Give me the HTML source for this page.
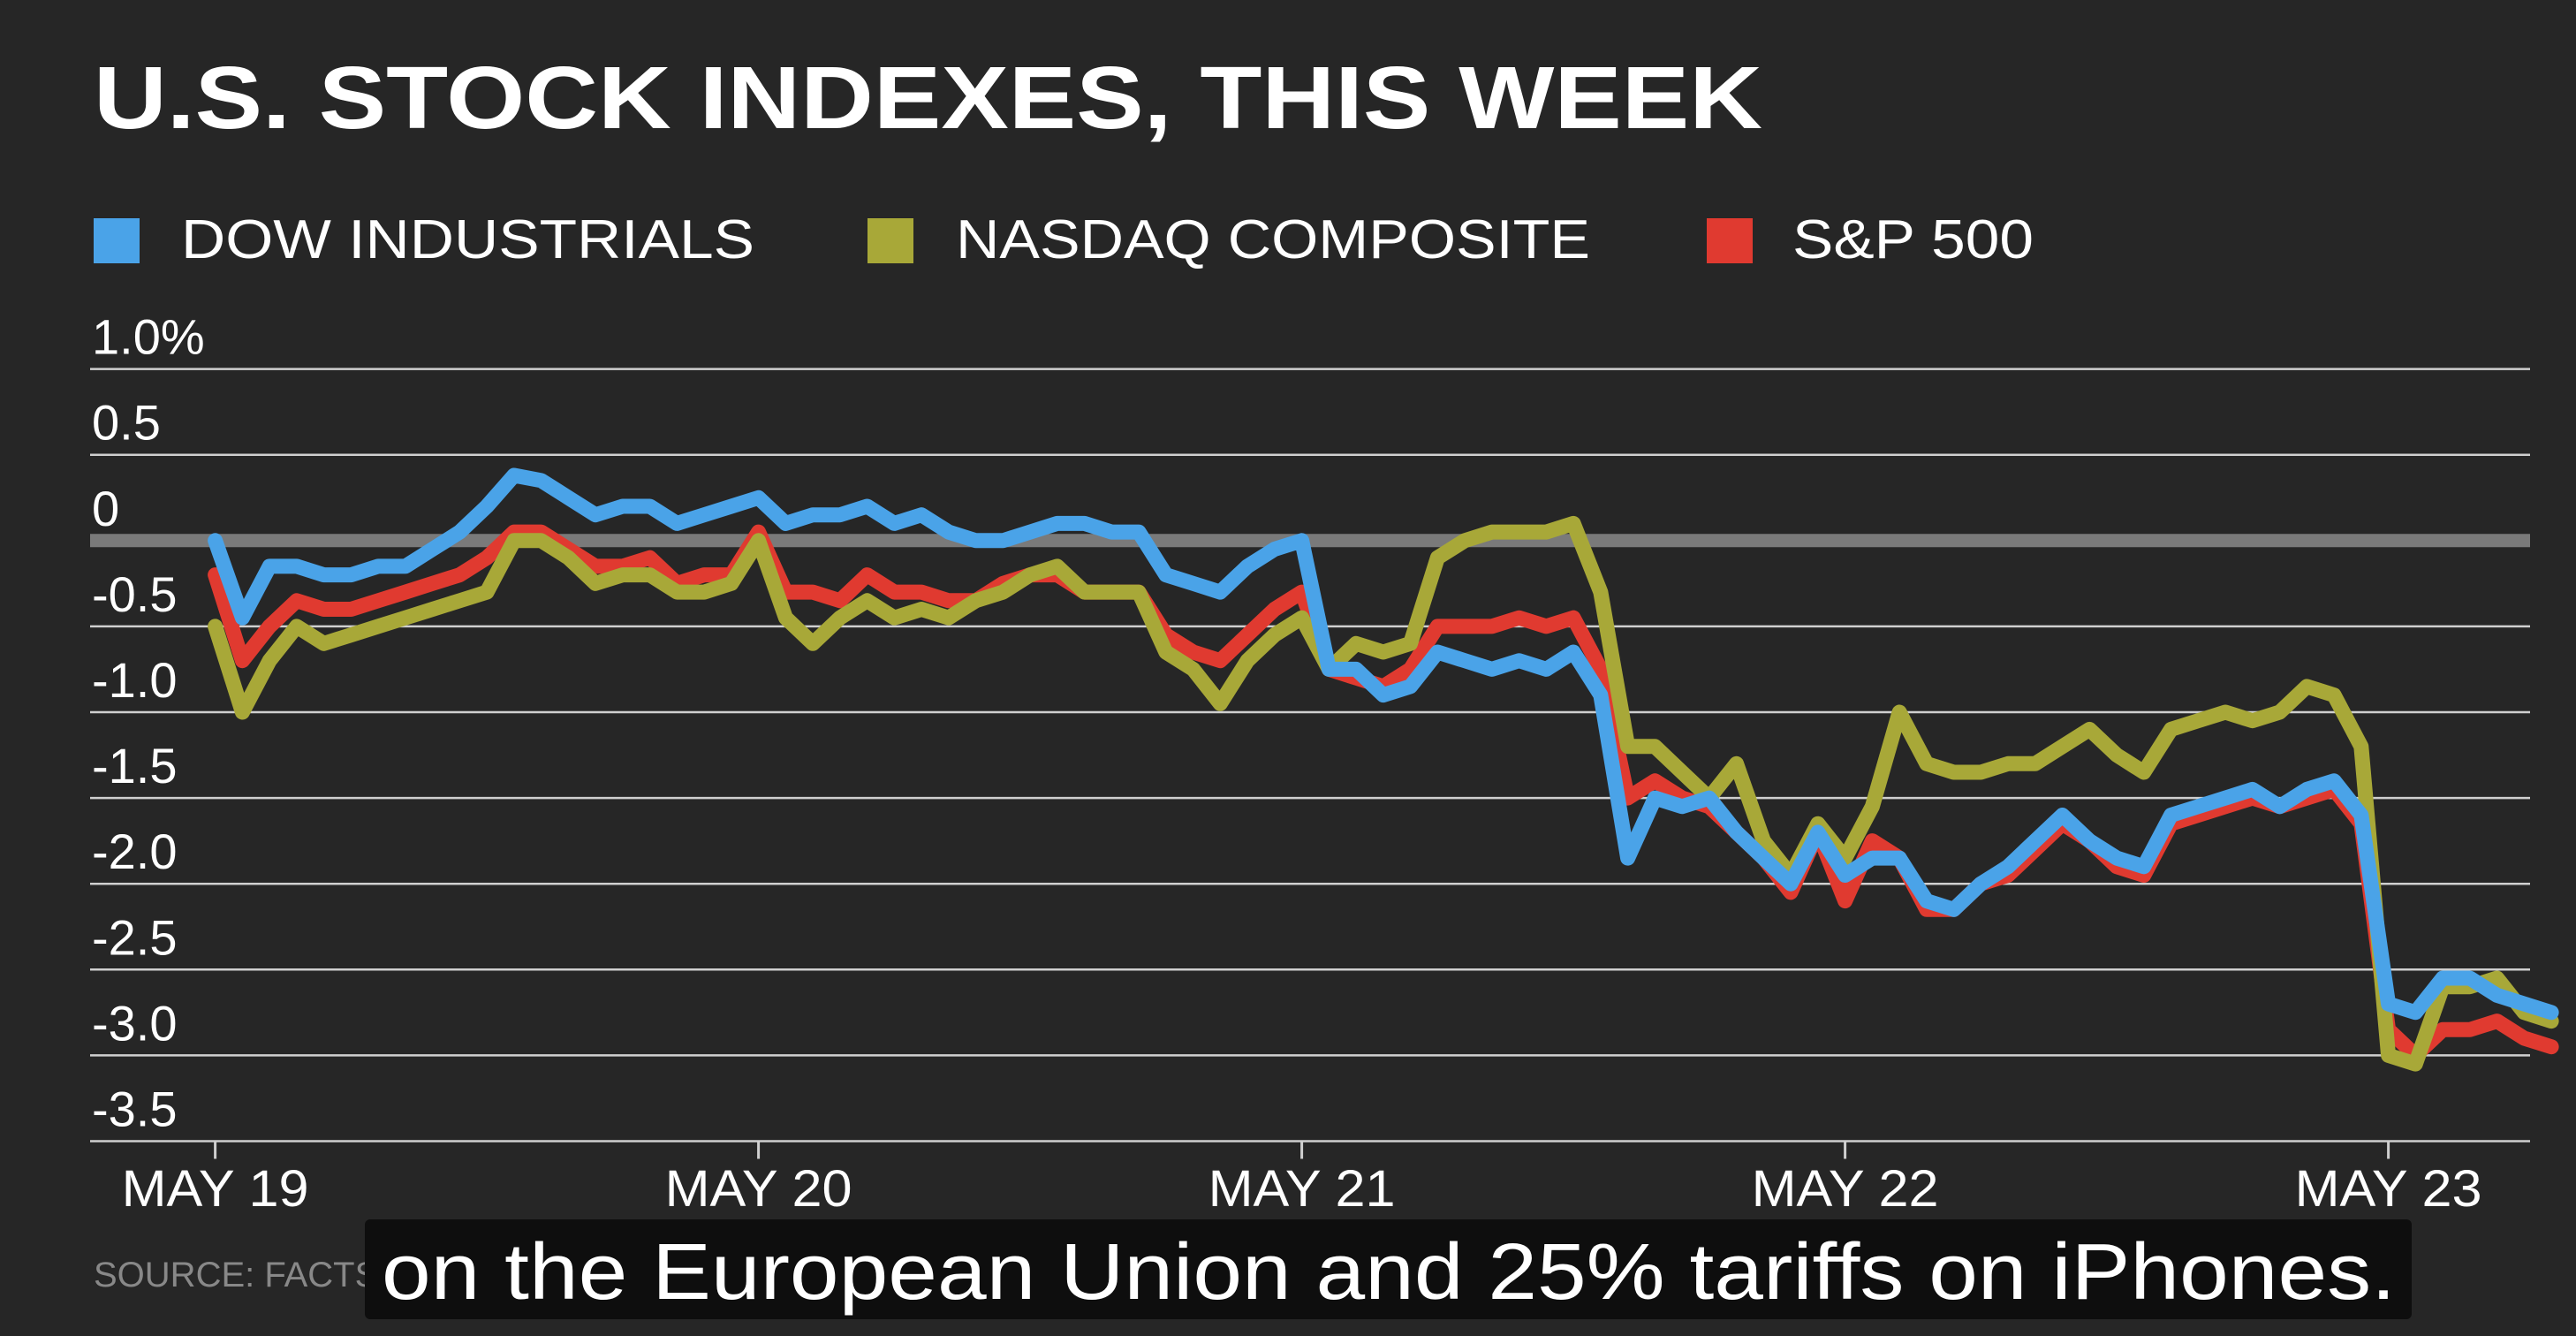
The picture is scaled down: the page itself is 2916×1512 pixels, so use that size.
<!DOCTYPE html>
<html><head><meta charset="utf-8"><style>
html,body{margin:0;padding:0;background:#262626;}
svg{display:block;}
text{font-family:"Liberation Sans",sans-serif;}
</style></head><body>
<svg id="c" width="2916" height="1512" viewBox="0 0 2916 1512">
<rect x="0" y="0" width="2916" height="1512" fill="#262626"/>
<text x="106" y="145" font-size="100" font-weight="bold" fill="#fff" textLength="1889" lengthAdjust="spacingAndGlyphs">U.S. STOCK INDEXES, THIS WEEK</text>
<g>
<rect x="106" y="247" width="52" height="51" fill="#4aa3e8"/>
<text x="205" y="292" font-size="62" fill="#fff" textLength="649" lengthAdjust="spacingAndGlyphs">DOW INDUSTRIALS</text>
<rect x="982" y="247" width="52" height="51" fill="#a8a838"/>
<text x="1082" y="292" font-size="62" fill="#fff" textLength="718" lengthAdjust="spacingAndGlyphs">NASDAQ COMPOSITE</text>
<rect x="1932" y="247" width="52" height="51" fill="#e03a30"/>
<text x="2029" y="292" font-size="62" fill="#fff" textLength="273" lengthAdjust="spacingAndGlyphs">S&amp;P 500</text>
</g>
<g id="grid"></g>
<g id="series"></g>
<text x="106" y="1456" font-size="40" fill="#888">SOURCE: FACTSET</text>
<rect x="413" y="1380" width="2317" height="113" rx="6" fill="#0e0e0e"/>
<text x="432" y="1470" font-size="90" fill="#fff" textLength="2280" lengthAdjust="spacingAndGlyphs">on the European Union and 25% tariffs on iPhones.</text>
</svg>
<script>
const yTicks = [1.0, 0.5, 0, -0.5, -1.0, -1.5, -2.0, -2.5, -3.0, -3.5];
const yTickLabels = ["1.0%", "0.5", "0", "-0.5", "-1.0", "-1.5", "-2.0", "-2.5", "-3.0", "-3.5"];
const xTicks = [0, 1, 2, 3, 4];
const xTickLabels = ["MAY 19", "MAY 20", "MAY 21", "MAY 22", "MAY 23"];
const timeStep = 0.05;
const dow = [0.0,-0.45,-0.15,-0.15,-0.2,-0.2,-0.15,-0.15,-0.05,0.05,0.2,0.38,0.35,0.25,0.15,0.2,0.2,0.1,0.15,0.2,0.25,0.1,0.15,0.15,0.2,0.1,0.15,0.05,0.0,0.0,0.05,0.1,0.1,0.05,0.05,-0.2,-0.25,-0.3,-0.15,-0.05,0.0,-0.75,-0.75,-0.9,-0.85,-0.65,-0.7,-0.75,-0.7,-0.75,-0.65,-0.9,-1.85,-1.5,-1.55,-1.5,-1.7,-1.85,-2.0,-1.7,-1.95,-1.85,-1.85,-2.1,-2.15,-2.0,-1.9,-1.75,-1.6,-1.75,-1.85,-1.9,-1.6,-1.55,-1.5,-1.45,-1.55,-1.45,-1.4,-1.6,-2.7,-2.75,-2.55,-2.55,-2.65,-2.7,-2.75];
const nasdaq = [-0.5,-1.0,-0.7,-0.5,-0.6,-0.55,-0.5,-0.45,-0.4,-0.35,-0.3,0.0,0.0,-0.1,-0.25,-0.2,-0.2,-0.3,-0.3,-0.25,0.0,-0.45,-0.6,-0.45,-0.35,-0.45,-0.4,-0.45,-0.35,-0.3,-0.2,-0.15,-0.3,-0.3,-0.3,-0.65,-0.75,-0.95,-0.7,-0.55,-0.45,-0.75,-0.6,-0.65,-0.6,-0.1,0.0,0.05,0.05,0.05,0.1,-0.3,-1.2,-1.2,-1.35,-1.5,-1.3,-1.75,-1.95,-1.65,-1.85,-1.55,-1.0,-1.3,-1.35,-1.35,-1.3,-1.3,-1.2,-1.1,-1.25,-1.35,-1.1,-1.05,-1.0,-1.05,-1.0,-0.85,-0.9,-1.2,-3.0,-3.05,-2.6,-2.6,-2.55,-2.75,-2.8];
const sp500 = [-0.2,-0.7,-0.5,-0.35,-0.4,-0.4,-0.35,-0.3,-0.25,-0.2,-0.1,0.05,0.05,-0.05,-0.15,-0.15,-0.1,-0.25,-0.2,-0.2,0.05,-0.3,-0.3,-0.35,-0.2,-0.3,-0.3,-0.35,-0.35,-0.25,-0.2,-0.2,-0.3,-0.3,-0.3,-0.55,-0.65,-0.7,-0.55,-0.4,-0.3,-0.75,-0.8,-0.85,-0.75,-0.5,-0.5,-0.5,-0.45,-0.5,-0.45,-0.75,-1.5,-1.4,-1.5,-1.55,-1.7,-1.85,-2.05,-1.7,-2.1,-1.75,-1.85,-2.15,-2.15,-2.0,-1.95,-1.8,-1.65,-1.75,-1.9,-1.95,-1.65,-1.6,-1.55,-1.5,-1.55,-1.5,-1.45,-1.65,-2.85,-3.0,-2.85,-2.85,-2.8,-2.9,-2.95];

const NS = "http://www.w3.org/2000/svg";
const X0 = 243.6, DAY = 615, XL = 102, XR = 2864;
function xScale(t){ return X0 + t*DAY; }
function yScale(v){ return 611.8 - v*194.2; }
function mk(tag, attrs, parent){ const e = document.createElementNS(NS, tag); for (const k in attrs) e.setAttribute(k, attrs[k]); parent.appendChild(e); return e; }

const grid = document.getElementById('grid');
yTicks.forEach((v, i) => {
  const y = yScale(v);
  const zero = v === 0;
  const ln = mk('line', {x1: XL, x2: XR, y1: y, y2: y, stroke: zero ? '#7a7a7a' : '#cfcfcf', 'stroke-width': zero ? 15 : 2.5}, grid);
  
  
  const tx = mk('text', {x: 104, y: y - 17, 'font-size': 56, fill: '#fff'}, grid);
  tx.textContent = yTickLabels[i];
  
  
});
xTicks.forEach((t, i) => {
  const x = xScale(t);
  const tk = mk('line', {x1: x, x2: x, y1: yScale(-3.5), y2: yScale(-3.5) + 20, stroke: '#cfcfcf', 'stroke-width': 3}, grid);
  
  
  const tx = mk('text', {x: x, y: 1365, 'font-size': 58, fill: '#fff', 'text-anchor': 'middle', textLength: 212, lengthAdjust: 'spacingAndGlyphs'}, grid);
  tx.textContent = xTickLabels[i];
  
  
});

const series = document.getElementById('series');
function drawLine(arr, color, name){
  const d = arr.map((v, i) => (i ? 'L' : 'M') + xScale(i*timeStep).toFixed(1) + ' ' + yScale(v).toFixed(1)).join(' ');
  const p = mk('path', {d: d, fill: 'none', stroke: color, 'stroke-width': 17, 'stroke-linejoin': 'round', 'stroke-linecap': 'round'}, series);
  
  
}
drawLine(sp500, '#e03a30', 'sp500-line');
drawLine(nasdaq, '#a8a838', 'nasdaq-line');
drawLine(dow, '#4aa3e8', 'dow-line');
</script>
</body></html>
